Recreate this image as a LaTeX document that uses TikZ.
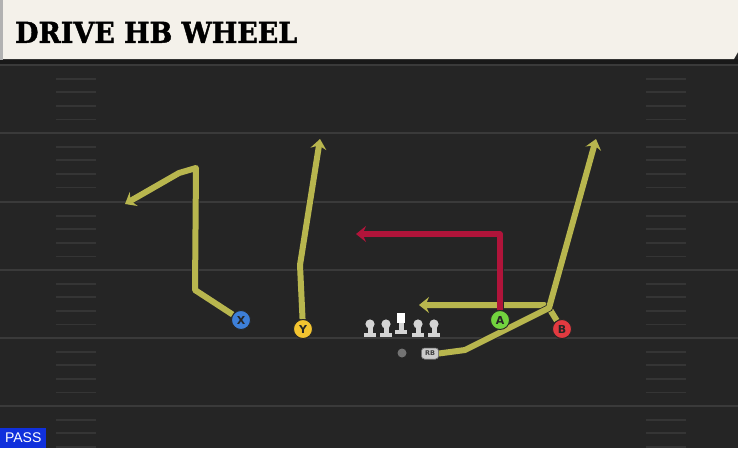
\documentclass[tikz,border=0pt]{standalone}
\usepackage{fontspec}
\setmainfont{DejaVu Sans}
\newfontfamily\titlefont{DejaVu Serif}[BoldFeatures={FakeBold=1.6}]
\newfontfamily\passfont{Liberation Sans}
\usetikzlibrary{arrows.meta}
\definecolor{fieldbg}{HTML}{252525}
\definecolor{fieldline}{HTML}{3A3A3A}
\definecolor{hashcol}{HTML}{353535}
\definecolor{headbg}{HTML}{F4F1EA}
\definecolor{routey}{HTML}{B8B64E}
\definecolor{router}{HTML}{B0143A}
\definecolor{pblue}{HTML}{3D7FD8}
\definecolor{pyellow}{HTML}{F3C430}
\definecolor{pgreen}{HTML}{72D43E}
\definecolor{pred}{HTML}{E23A40}
\definecolor{passblue}{HTML}{1030DC}
\definecolor{olgray}{HTML}{D4D4D4}
\tikzset{
  player/.style={circle, minimum size=19pt, inner sep=0pt, draw=black!85, line width=0.9pt, font=\bfseries\fontsize{11}{11}\selectfont, text=black!85},
  route/.style={line width=6pt, color=routey, line join=round, preaction={draw=black!85, line width=7.5pt}},
  redroute/.style={line width=5.5pt, color=router, line join=round, preaction={draw=black!85, line width=7pt}},
  tip/.style={-{Stealth[length=10pt,width=16pt,inset=3.5pt]}},
  majorline/.style={draw=fieldline, line width=2pt},
  hash/.style={draw=hashcol, line width=1.8pt},
  olman/.style={fill=olgray, draw=none},
  rbbox/.style={rounded corners=3pt, fill=black!20, draw=black!60, line width=0.5pt, minimum width=17pt, minimum height=11pt, inner sep=0pt, font=\bfseries\fontsize{6.5}{6.5}\selectfont, text=black!75},
}
\begin{document}
\begin{tikzpicture}[x=1pt,y=-1pt]
\useasboundingbox (0,0) rectangle (738,448);
% background
\fill[fieldbg] (0,0) rectangle (738,448);
% field lines
\foreach \yy in {65,133,202,270,338,406} {
  \draw[majorline] (0,\yy) -- (738,\yy);
}
\foreach \yy in {65,133,202,270,338,406} {
  \foreach \k in {1,2,3,4} {
    \draw[hash] (56,\yy+\k*13.6) -- (96,\yy+\k*13.6);
    \draw[hash] (646,\yy+\k*13.6) -- (686,\yy+\k*13.6);
  }
}
% header
\fill[black!90] (0,59) rectangle (738,64);
\fill[black!30] (0,0) rectangle (3,60);
\fill[headbg] (3,0) -- (738,0) -- (738,52) -- (734,59) -- (3,59) -- cycle;
\node[anchor=south west, inner sep=0pt] (title) at (15,43)
  {\resizebox{282pt}{21pt}{\titlefont\bfseries DRIVE HB WHEEL}};
% PASS label
\node[fill=passblue, anchor=south west, minimum width=46pt, minimum height=20pt, inner sep=0pt, text=white, font=\passfont\fontsize{14}{14}\selectfont] (pass) at (0,448) {PASS};
% offensive line
\foreach \cx/\nm in {370/lt,386/lg,418/rg,434/rt} {
  \fill[olman] (\cx-6,337) rectangle (\cx+6,332.5);
  \fill[olman] (\cx-2.5,333) rectangle (\cx+2.5,324);
  \fill[olman] (\cx,324) circle (4.6pt);
  \coordinate (\nm) at (\cx,330);
}
\fill[olman] (395,334) rectangle (407,330);
\fill[olman] (398.5,331) rectangle (403.5,322);
\fill[white] (397,313) rectangle (405,322.5);
\coordinate (center) at (401,325);
% QB
\node[circle, fill=black!55, minimum size=9pt, inner sep=0pt] (qb) at (402,353) {};
% RB
\node[rbbox] (rb) at (430,353.5) {RB};
% route bend points
\coordinate (x1) at (195,290);
\coordinate (x2) at (196,168);
\coordinate (x3) at (179,173);
\coordinate (xend) at (125,204);
\coordinate (y1) at (300,265);
\coordinate (yend) at (320,139);
\coordinate (a1) at (500,234);
\coordinate (aend) at (356,234);
\coordinate (jn) at (549,308);
\coordinate (b2) at (544,305);
\coordinate (bend) at (419,305);
\coordinate (r1) at (465,350);
\coordinate (rend) at (596,139);
% players
\node[player, fill=pblue] (X) at (241,320) {X};
\node[player, fill=pyellow] (Y) at (303,329) {Y};
\node[player, fill=pgreen] (A) at (500,320) {A};
\node[player, fill=pred] (B) at (562,329) {B};
% routes
\draw[route, tip] (X) -- (x1) -- (x2) -- (x3) -- (xend);
\draw[route, tip] (Y) -- (y1) -- (yend);
\draw[route, tip] (B) -- (jn) -- (b2) -- (bend);
\draw[route, tip] (rb.east) -- (r1) -- (jn) -- (rend);
\draw[redroute, tip] (A) -- (a1) -- (aend);
% redraw players on top
\node[player, fill=pblue] at (X) {X};
\node[player, fill=pyellow] at (Y) {Y};
\node[player, fill=pgreen] at (A) {A};
\node[player, fill=pred] at (B) {B};
\node[rbbox] at (rb) {RB};
\end{tikzpicture}
\end{document}
